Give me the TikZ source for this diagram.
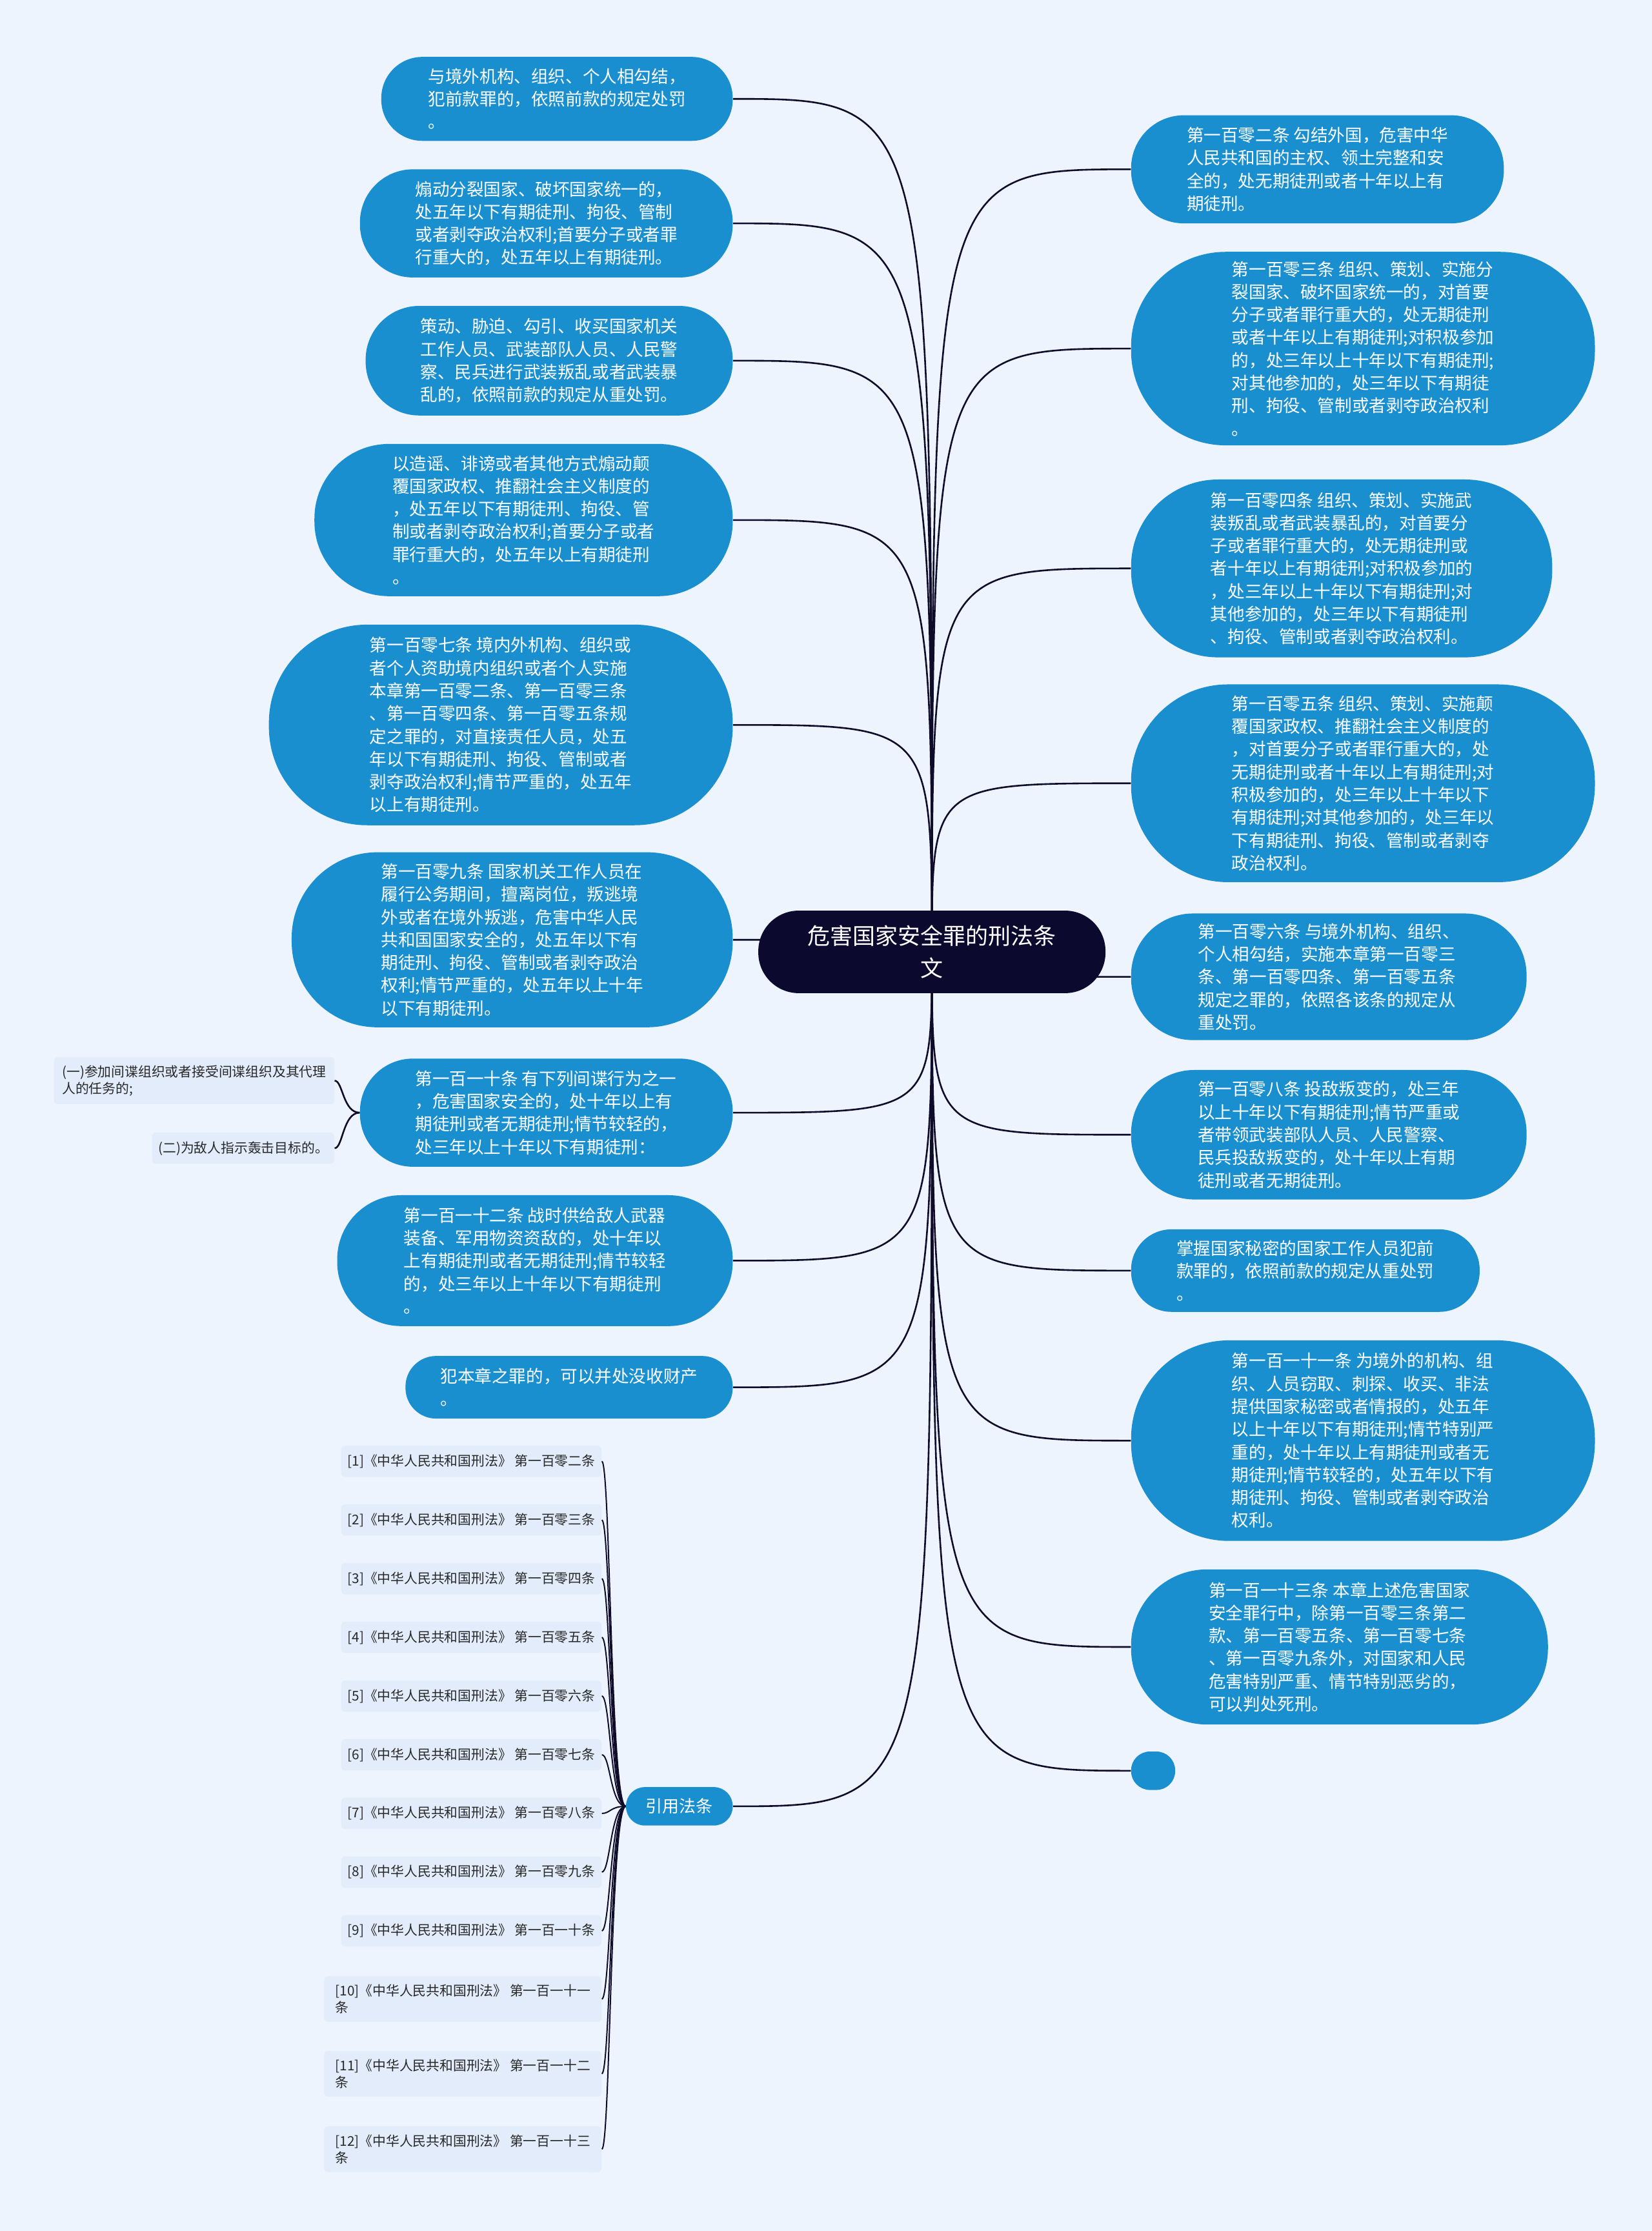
\documentclass[tikz,border=0pt]{standalone}
\usepackage{fontspec}
\setmainfont{Noto Sans CJK SC}
\usetikzlibrary{backgrounds}
\definecolor{bgc}{RGB}{238,244,253}
\definecolor{nodeblue}{RGB}{26,143,208}
\definecolor{rootc}{RGB}{12,9,47}
\definecolor{subc}{RGB}{226,236,250}
\definecolor{linec}{RGB}{14,12,40}
\definecolor{subtext}{RGB}{40,40,40}
\tikzset{
  leaf/.style 2 args={draw=none, fill=nodeblue, text=white, align=left, inner sep=0pt,
    minimum width=#1*1.1025pt, minimum height=#2*1.1025pt, rounded corners=#2*0.54pt,
    font=\fontsize{13.3}{17.64}\selectfont},
  rootnode/.style={draw=none, fill=rootc, text=white, align=center, inner sep=0pt,
    minimum width=244*1.1025pt, minimum height=58*1.1025pt, rounded corners=58*0.54pt,
    font=\fontsize{17.5}{25}\selectfont},
  subitem/.style 2 args={draw=none, fill=subc, text=subtext, align=left, inner sep=0pt,
    minimum width=#1*1.1025pt, minimum height=#2*1.1025pt, rounded corners=3pt,
    font=\fontsize{10.4}{13.2}\selectfont},
  conn/.style={draw=linec, line width=1.3pt},
}
\begin{document}
\begin{tikzpicture}[x=1.1025pt, y=-1.1025pt]
\useasboundingbox (0,0) rectangle (1161,1568);
% root
\node[rootnode] (root) at (655,669) {危害国家安全罪的刑法条\\文};
% left
\node[leaf={247}{59}] (L1) at (391.5,69.5) {与境外机构、组织、个人相勾结，\\犯前款罪的，依照前款的规定处罚\\。};
\node[leaf={262}{76}] (L2) at (384,157) {煽动分裂国家、破坏国家统一的，\\处五年以下有期徒刑、拘役、管制\\或者剥夺政治权利;首要分子或者罪\\行重大的，处五年以上有期徒刑。};
\node[leaf={258}{77}] (L3) at (386,253.5) {策动、胁迫、勾引、收买国家机关\\工作人员、武装部队人员、人民警\\察、民兵进行武装叛乱或者武装暴\\乱的，依照前款的规定从重处罚。};
\node[leaf={294}{107}] (L4) at (368,365.5) {以造谣、诽谤或者其他方式煽动颠\\覆国家政权、推翻社会主义制度的\\，处五年以下有期徒刑、拘役、管\\制或者剥夺政治权利;首要分子或者\\罪行重大的，处五年以上有期徒刑\\。};
\node[leaf={326}{141}] (L5) at (352,509.5) {第一百零七条 境内外机构、组织或\\者个人资助境内组织或者个人实施\\本章第一百零二条、第一百零三条\\、第一百零四条、第一百零五条规\\定之罪的，对直接责任人员，处五\\年以下有期徒刑、拘役、管制或者\\剥夺政治权利;情节严重的，处五年\\以上有期徒刑。};
\node[leaf={310}{123}] (L6) at (360,660.5) {第一百零九条 国家机关工作人员在\\履行公务期间，擅离岗位，叛逃境\\外或者在境外叛逃，危害中华人民\\共和国国家安全的，处五年以下有\\期徒刑、拘役、管制或者剥夺政治\\权利;情节严重的，处五年以上十年\\以下有期徒刑。};
\node[leaf={262}{76}] (L7) at (384,782) {第一百一十条 有下列间谍行为之一\\，危害国家安全的，处十年以上有\\期徒刑或者无期徒刑;情节较轻的，\\处三年以上十年以下有期徒刑：};
\node[leaf={278}{92}] (L8) at (376,886) {第一百一十二条 战时供给敌人武器\\装备、军用物资资敌的，处十年以\\上有期徒刑或者无期徒刑;情节较轻\\的，处三年以上十年以下有期徒刑\\。};
\node[leaf={230}{44}] (L9) at (400,975) {犯本章之罪的，可以并处没收财产\\。};
\node[leaf={75}{27}, font=\fontsize{13}{16}\selectfont] (YY) at (477.5,1269.5) {引用法条};
% right
\node[leaf={262}{76}] (R1) at (926,119) {第一百零二条 勾结外国，危害中华\\人民共和国的主权、领土完整和安\\全的，处无期徒刑或者十年以上有\\期徒刑。};
\node[leaf={326}{136}] (R2) at (958,245) {第一百零三条 组织、策划、实施分\\裂国家、破坏国家统一的，对首要\\分子或者罪行重大的，处无期徒刑\\或者十年以上有期徒刑;对积极参加\\的，处三年以上十年以下有期徒刑;\\对其他参加的，处三年以下有期徒\\刑、拘役、管制或者剥夺政治权利\\。};
\node[leaf={296}{125}] (R3) at (943,399.5) {第一百零四条 组织、策划、实施武\\装叛乱或者武装暴乱的，对首要分\\子或者罪行重大的，处无期徒刑或\\者十年以上有期徒刑;对积极参加的\\，处三年以上十年以下有期徒刑;对\\其他参加的，处三年以下有期徒刑\\、拘役、管制或者剥夺政治权利。};
\node[leaf={326}{139}] (R4) at (958,550.5) {第一百零五条 组织、策划、实施颠\\覆国家政权、推翻社会主义制度的\\，对首要分子或者罪行重大的，处\\无期徒刑或者十年以上有期徒刑;对\\积极参加的，处三年以上十年以下\\有期徒刑;对其他参加的，处三年以\\下有期徒刑、拘役、管制或者剥夺\\政治权利。};
\node[leaf={278}{89}] (R5) at (934,686.5) {第一百零六条 与境外机构、组织、\\个人相勾结，实施本章第一百零三\\条、第一百零四条、第一百零五条\\规定之罪的，依照各该条的规定从\\重处罚。};
\node[leaf={278}{91}] (R6) at (934,797.5) {第一百零八条 投敌叛变的，处三年\\以上十年以下有期徒刑;情节严重或\\者带领武装部队人员、人民警察、\\民兵投敌叛变的，处十年以上有期\\徒刑或者无期徒刑。};
\node[leaf={245}{58}] (R7) at (917.5,893) {掌握国家秘密的国家工作人员犯前\\款罪的，依照前款的规定从重处罚\\。};
\node[leaf={326}{141}] (R8) at (958,1012.5) {第一百一十一条 为境外的机构、组\\织、人员窃取、刺探、收买、非法\\提供国家秘密或者情报的，处五年\\以上十年以下有期徒刑;情节特别严\\重的，处十年以上有期徒刑或者无\\期徒刑;情节较轻的，处五年以下有\\期徒刑、拘役、管制或者剥夺政治\\权利。};
\node[leaf={293}{109}] (R9) at (941.5,1157.5) {第一百一十三条 本章上述危害国家\\安全罪行中，除第一百零三条第二\\款、第一百零五条、第一百零七条\\、第一百零九条外，对国家和人民\\危害特别严重、情节特别恶劣的，\\可以判处死刑。};
\node[leaf={31}{27}] (R10) at (810.5,1244.5) {};
% sub items of L7
\node[subitem={197}{33}] (C1) at (136.5,759.5) {(一)参加间谍组织或者接受间谍组织及其代理\\人的任务的;};
\node[subitem={128}{22}] (C2) at (171,807) {(二)为敌人指示轰击目标的。};
\coordinate (b7) at (241,782);
% citations
\node[subitem={183}{22}, anchor=east] (I1) at (423,1027) {[1]《中华人民共和国刑法》 第一百零二条};
\node[subitem={183}{22}, anchor=east] (I2) at (423,1068.25) {[2]《中华人民共和国刑法》 第一百零三条};
\node[subitem={183}{22}, anchor=east] (I3) at (423,1109.5) {[3]《中华人民共和国刑法》 第一百零四条};
\node[subitem={183}{22}, anchor=east] (I4) at (423,1150.75) {[4]《中华人民共和国刑法》 第一百零五条};
\node[subitem={183}{22}, anchor=east] (I5) at (423,1192) {[5]《中华人民共和国刑法》 第一百零六条};
\node[subitem={183}{22}, anchor=east] (I6) at (423,1233.25) {[6]《中华人民共和国刑法》 第一百零七条};
\node[subitem={183}{22}, anchor=east] (I7) at (423,1274.5) {[7]《中华人民共和国刑法》 第一百零八条};
\node[subitem={183}{22}, anchor=east] (I8) at (423,1315.75) {[8]《中华人民共和国刑法》 第一百零九条};
\node[subitem={183}{22}, anchor=east] (I9) at (423,1357) {[9]《中华人民共和国刑法》 第一百一十条};
\node[subitem={195}{32}, anchor=east] (I10) at (423,1405) {[10]《中华人民共和国刑法》 第一百一十一\\条};
\node[subitem={195}{32}, anchor=east] (I11) at (423,1457.5) {[11]《中华人民共和国刑法》 第一百一十二\\条};
\node[subitem={195}{32}, anchor=east] (I12) at (423,1510.5) {[12]《中华人民共和国刑法》 第一百一十三\\条};
\coordinate (by) at (429,1269.5);
\begin{scope}[on background layer]
\fill[bgc] (0,0) rectangle (1161,1568);
\foreach \n in {L1,L2,L3,L4,L5,L6,L7,L8,L9,YY}
  \draw[conn] (root.center) .. controls (root.center |- \n.east) .. (\n.east);
\foreach \n in {R1,R2,R3,R4,R5,R6,R7,R8,R9,R10}
  \draw[conn] (root.center) .. controls (root.center |- \n.west) .. (\n.west);
\foreach \n in {C1,C2}
  \draw[conn] (L7.west) .. controls (b7) and (b7 |- \n.east) .. (\n.east);
\foreach \n in {I1,I2,I3,I4,I5,I6,I7,I8,I9,I10,I11,I12}
  \draw[conn, line width=1pt] (YY.west) .. controls (by) and (by |- \n.east) .. (\n.east);
\end{scope}
\end{tikzpicture}
\end{document}
